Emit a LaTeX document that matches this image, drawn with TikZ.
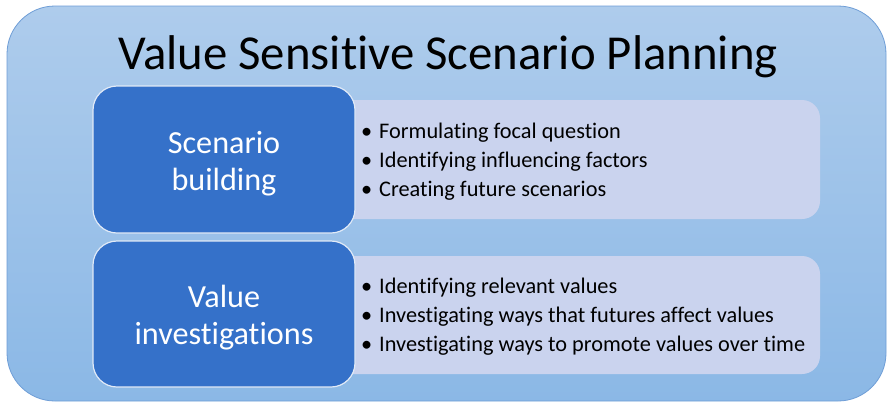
\documentclass[tikz,border=0pt]{standalone}
\usepackage{fontspec}
\setmainfont{Carlito}[Ligatures=NoCommon]
\usetikzlibrary{positioning}
\definecolor{outertop}{HTML}{AECCEC}
\definecolor{outerbot}{HTML}{8BB8E6}
\definecolor{outerline}{HTML}{6E9DD6}
\definecolor{darkbox}{HTML}{3571C9}
\definecolor{lightbox}{HTML}{CAD3EE}
\tikzset{
  x=1pt, y=-1pt,
  outerbox/.style={draw=outerline, line width=0.8pt, top color=outertop, bottom color=outerbot, rounded corners=48pt},
  phasebox/.style={draw=white!85!darkbox, line width=1.2pt, fill=darkbox, rounded corners=24pt},
  listbox/.style={fill=lightbox, rounded corners=18pt},
  phaselabel/.style={text=white, align=center, font=\fontsize{32.2}{37}\selectfont},
  listtext/.style={text=black, align=left, anchor=west, font=\fontsize{22.3}{29}\selectfont, inner sep=0pt},
  titletext/.style={font=\fontsize{48.8}{54}\selectfont, text=black, anchor=base}
}
\newcommand{\bul}{\makebox[18pt][l]{\textbullet}}
\begin{document}
\begin{tikzpicture}
\useasboundingbox (0,0) rectangle (888,408);
\path[outerbox] (7,6) rectangle (886,401);
\node[titletext] (title) at (448,69) {Value Sensitive Scenario Planning};
% list boxes
\path[listbox] (300,100) rectangle (820,219);
\path[listbox] (300,256) rectangle (820,374);
% phase boxes
\path[phasebox] (93,86) rectangle (355,233);
\path[phasebox] (93,241) rectangle (355,387);
\node[phaselabel] (sb) at (224,164) {Scenario\\building};
\node[phaselabel] (vi) at (224,318) {Value\\investigations};
\node[listtext] (l1) at (361,162) {\bul Formulating focal question\\\bul Identifying influencing factors\\\bul Creating future scenarios};
\node[listtext] (l2) at (361,317) {\bul Identifying relevant values\\\bul Investigating ways that futures affect values\\\bul Investigating ways to promote values over time};
\end{tikzpicture}
\end{document}
